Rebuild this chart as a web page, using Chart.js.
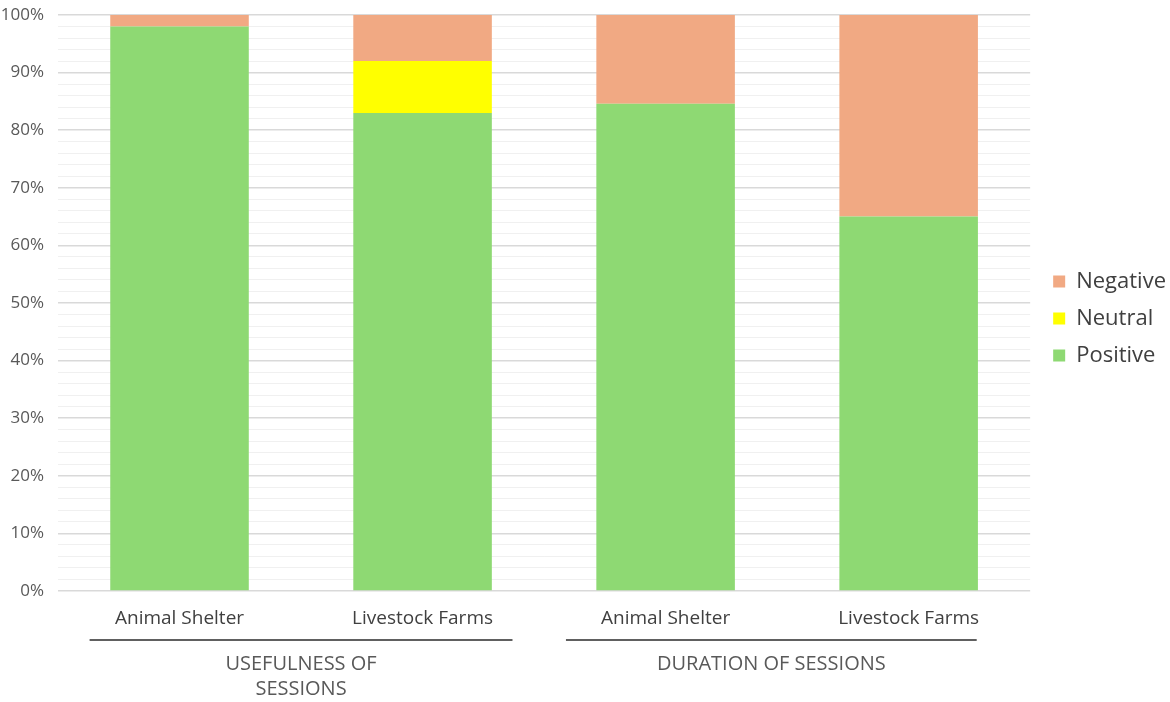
<!DOCTYPE html>
<html>
<head>
<meta charset="utf-8">
<script src="https://cdn.jsdelivr.net/npm/chart.js@4/dist/chart.umd.min.js"></script>
<style>
  html, body { margin: 0; padding: 0; background: #fff; }
  #wrap { width: 1170px; height: 702px; }
</style>
</head>
<body>
<div id="wrap"><canvas id="chart" width="1170" height="702"></canvas></div>
<script>
// data (percent of responses)
const categories = ['Animal Shelter', 'Livestock Farms', 'Animal Shelter', 'Livestock Farms'];
const groupNames = [['USEFULNESS OF', 'SESSIONS'], ['DURATION OF SESSIONS']];
const positive = [98, 83, 84.6, 65];
const neutral = [0, 9, 0, 0];
const negative = [2, 8, 15.4, 35];

const FONT = "'Open Sans', sans-serif";

// draws the line + caption under each pair of categories
const groupLabels = {
  id: 'groupLabels',
  afterDraw(chart) {
    const { ctx, scales: { x } } = chart;
    const step = x.getPixelForValue(1) - x.getPixelForValue(0);
    const spans = [[0, 1, -0.37, 0.37], [2, 3, -0.41, 0.28]];
    ctx.save();
    spans.forEach((s, i) => {
      const x0 = x.getPixelForValue(s[0]) + s[2] * step;
      const x1 = x.getPixelForValue(s[1]) + s[3] * step;
      ctx.strokeStyle = '#606060';
      ctx.lineWidth = 2;
      ctx.beginPath();
      ctx.moveTo(x0, 640);
      ctx.lineTo(x1, 640);
      ctx.stroke();
      ctx.fillStyle = '#595959';
      ctx.font = '20px ' + FONT;
      ctx.textAlign = 'center';
      ctx.textBaseline = 'middle';
      groupNames[i].forEach((line, j) => {
        ctx.fillText(line, (x0 + x1) / 2, 664 + j * 25);
      });
    });
    ctx.restore();
  }
};

// legend sits a bit above the middle and further from the plot in the original
const moveLegend = {
  id: 'moveLegend',
  afterLayout(chart) {
    const lg = chart.legend;
    lg.top -= 40;
    lg.bottom -= 40;
    lg.left += 8;
    lg.right += 8;
  }
};

new Chart(document.getElementById('chart'), {
  type: 'bar',
  data: {
    labels: categories,
    datasets: [
      { label: 'Positive', data: positive, backgroundColor: '#8ED973' },
      { label: 'Neutral', data: neutral, backgroundColor: '#FFFF00' },
      { label: 'Negative', data: negative, backgroundColor: '#F1A983' }
    ]
  },
  options: {
    responsive: false,
    animation: false,
    layout: { padding: { top: 15, left: 0, right: 2, bottom: 0 } },
    datasets: { bar: { categoryPercentage: 1, barPercentage: 0.57 } },
    plugins: {
      tooltip: { enabled: false },
      legend: {
        position: 'right',
        reverse: true,
        labels: {
          boxWidth: 12,
          boxHeight: 12,
          padding: 15,
          color: '#404040',
          font: { family: FONT, size: 22 }
        }
      }
    },
    scales: {
      x: {
        stacked: true,
        grid: { display: false },
        border: { display: false },
        ticks: { color: '#404040', font: { family: FONT, size: 19 }, padding: 8, maxRotation: 0 },
        afterFit(scale) { scale.height = 111; }
      },
      y: {
        stacked: true,
        min: 0,
        max: 100,
        border: { display: false },
        grid: {
          color: c => (c.tick.value % 10 === 0 ? '#d9d9d9' : '#f0f0f0'),
          lineWidth: c => (c.tick.value % 10 === 0 ? 1.5 : 1),
          drawTicks: false
        },
        ticks: {
          stepSize: 2,
          autoSkip: false,
          padding: 14,
          color: '#595959',
          font: { family: FONT, size: 17 },
          callback: v => (v % 10 === 0 ? v + '%' : '')
        },
        afterFit(scale) {
          scale.width = 58;
          scale.paddingTop = 0;
          scale.paddingBottom = 0;
        }
      }
    }
  },
  plugins: [groupLabels, moveLegend]
});
</script>
</body>
</html>
